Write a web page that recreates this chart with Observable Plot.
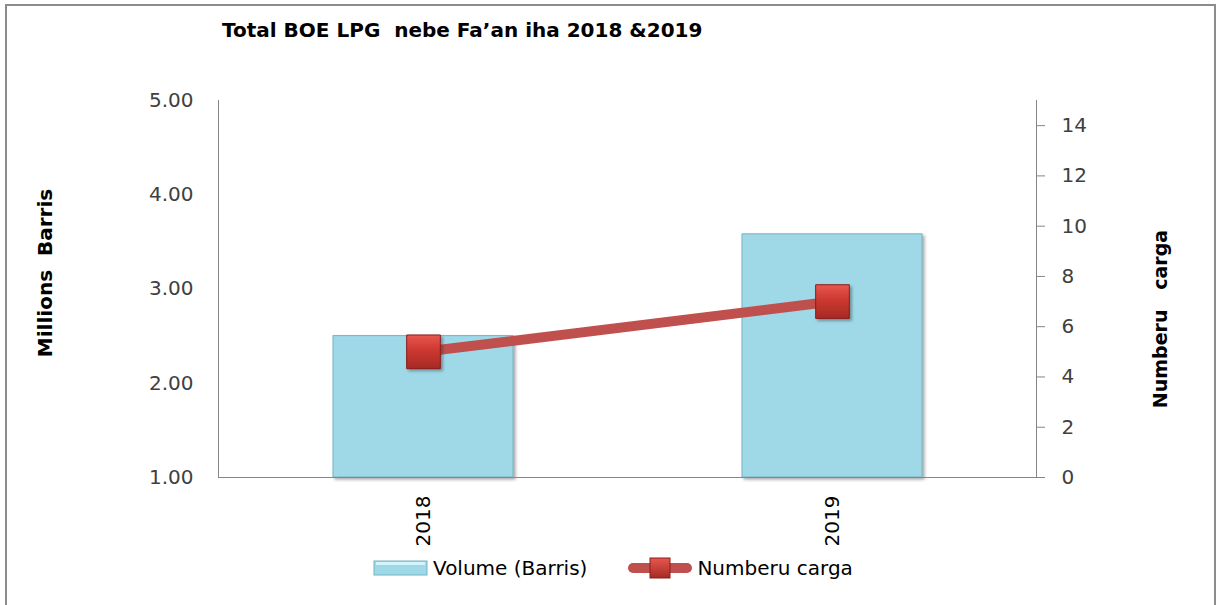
<!DOCTYPE html>
<html><head><meta charset="utf-8">
<script src="https://cdn.jsdelivr.net/npm/d3@7"></script>
<script src="https://cdn.jsdelivr.net/npm/@observablehq/plot@0.6"></script>
<style>
body{margin:0;background:#fff;font-family:"DejaVu Sans", sans-serif;}
#wrap{position:relative;width:1218px;height:605px;overflow:hidden;background:#fff}
#frame{position:absolute;left:5px;top:4px;width:1211px;height:700px;border:2px solid #8c8c8c;box-sizing:border-box;pointer-events:none}
#title{height:88px;box-sizing:border-box;padding:18px 0 0 222px;font:bold 20px "DejaVu Sans", sans-serif;line-height:24px;color:#000;white-space:pre}
#legend{display:flex;align-items:center;padding-left:373px;height:36px;font:20px "DejaVu Sans", sans-serif;color:#000}
#legend .item{display:flex;align-items:center;margin-right:40px}
svg text{white-space:pre}
</style></head>
<body>
<div id="wrap">
  <div id="title">Total BOE LPG  nebe Fa’an iha 2018 &amp;2019</div>
  <div id="chart"></div>
  <div id="legend"></div>
  <div id="frame"></div>
</div>
<script>
const years = ["2018", "2019"];
const volume = [2.5, 3.58];          // Millions Barris (left axis)
const cargo = [5, 7];                // Numberu carga (right axis)
const leftTicks = [1, 2, 3, 4, 5];
const rightTicks = [0, 2, 4, 6, 8, 10, 12, 14];
const leftDomain = [1, 5];
const rightDomain = [0, 15];
const seriesNames = ["Volume (Barris)", "Numberu carga"];
const leftLabel = "Millions  Barris";
const rightLabel = "Numberu   carga";

const toLeft = v => leftDomain[0] + (v - rightDomain[0]) * (leftDomain[1] - leftDomain[0]) / (rightDomain[1] - rightDomain[0]);
const fromLeft = v => rightDomain[0] + (v - leftDomain[0]) * (rightDomain[1] - rightDomain[0]) / (leftDomain[1] - leftDomain[0]);

const rows = years.map((y, i) => ({year: y, volume: volume[i], cargo: cargo[i]}));

const barFill = "#9fd9e8", lineColor = "#c0504d";

const chart = Plot.plot({
  width: 1218, height: 462,
  marginLeft: 218, marginRight: 182, marginTop: 12, marginBottom: 73,
  style: {fontFamily: "'DejaVu Sans', sans-serif", background: "transparent"},
  x: {type: "band", domain: years, paddingInner: 0.56, paddingOuter: 0.28, axis: null},
  y: {domain: leftDomain, axis: null},
  marks: [
    Plot.barY(rows, {x: "year", y1: leftDomain[0], y2: "volume", fill: barFill, stroke: "#74b3c4", strokeWidth: 1}),
    Plot.frame({anchor: "left", stroke: "#868686"}),
    Plot.frame({anchor: "right", stroke: "#868686"}),
    Plot.frame({anchor: "bottom", stroke: "#868686"}),
    Plot.axisY(leftTicks, {anchor: "left", label: null, tickSize: 0, tickPadding: 25, tickFormat: d => d.toFixed(2), fontSize: 20, color: "#404040"}),
    Plot.axisY(rightTicks.map(toLeft), {anchor: "right", label: null, tickSize: 8, tickPadding: 17, tickFormat: v => String(Math.round(fromLeft(v))), fontSize: 20, stroke: "#868686", fill: "#404040"}),
    Plot.axisX({label: null, tickRotate: -90, tickSize: 0, tickPadding: 18, fontSize: 20, color: "#000"}),
    Plot.line(rows, {x: "year", y: d => toLeft(d.cargo), stroke: lineColor, strokeWidth: 10}),
    Plot.dot(rows, {x: "year", y: d => toLeft(d.cargo), symbol: "square", r: 19, fill: "#c8342e", stroke: "#8b1d1a", strokeWidth: 1}),
    Plot.text([leftLabel], {frameAnchor: "left", textAnchor: "middle", dx: -173, dy: -16, rotate: -90, fontWeight: "bold", fontSize: 20, fill: "#000"}),
    Plot.text([rightLabel], {frameAnchor: "right", textAnchor: "middle", dx: 124, dy: 30, rotate: -90, fontWeight: "bold", fontSize: 19, fill: "#000"})
  ]
});
document.getElementById("chart").appendChild(chart);

// Styling effects: gradients and shadows
const svg = d3.select(chart);
const defs = svg.insert("defs", ":first-child");
const g1 = defs.append("linearGradient").attr("id", "sqgrad").attr("x1", 0).attr("y1", 0).attr("x2", 0).attr("y2", 1);
g1.append("stop").attr("offset", "0%").attr("stop-color", "#e8574f");
g1.append("stop").attr("offset", "45%").attr("stop-color", "#cc3830");
g1.append("stop").attr("offset", "100%").attr("stop-color", "#a52a24");
const f = defs.append("filter").attr("id", "shadow").attr("x", "-10%").attr("y", "-10%").attr("width", "130%").attr("height", "130%");
f.append("feDropShadow").attr("dx", 2).attr("dy", 2).attr("stdDeviation", 1.5).attr("flood-color", "#333").attr("flood-opacity", 0.45);
svg.selectAll('g[aria-label="dot"] path').attr("fill", "url(#sqgrad)").attr("filter", "url(#shadow)");
svg.selectAll('g[aria-label="bar"] rect').attr("filter", "url(#shadow)");

// Legend
const legend = d3.select("#legend");
const it1 = legend.append("div").attr("class", "item");
const s1 = it1.append("svg").attr("width", 56).attr("height", 20).style("margin-right", "4px");
s1.append("rect").attr("x", 1).attr("y", 3).attr("width", 53).attr("height", 14).attr("fill", barFill).attr("stroke", "#74b3c4");
s1.append("rect").attr("x", 3).attr("y", 4).attr("width", 49).attr("height", 3).attr("fill", "#d4f3fa");
it1.append("span").text(seriesNames[0]);
const it2 = legend.append("div").attr("class", "item");
const s2 = it2.append("svg").attr("width", 66).attr("height", 24).style("margin-right", "4px");
const d2 = s2.append("defs").append("linearGradient").attr("id", "sqgrad2").attr("x1", 0).attr("y1", 0).attr("x2", 0).attr("y2", 1);
d2.append("stop").attr("offset", "0%").attr("stop-color", "#e8574f");
d2.append("stop").attr("offset", "100%").attr("stop-color", "#a52a24");
s2.append("line").attr("x1", 6).attr("x2", 60).attr("y1", 12).attr("y2", 12).attr("stroke", lineColor).attr("stroke-width", 10).attr("stroke-linecap", "round");
s2.append("rect").attr("x", 23).attr("y", 2).attr("width", 20).attr("height", 20).attr("fill", "url(#sqgrad2)").attr("stroke", "#8b1d1a");
it2.append("span").text(seriesNames[1]);
</script>
</body></html>
